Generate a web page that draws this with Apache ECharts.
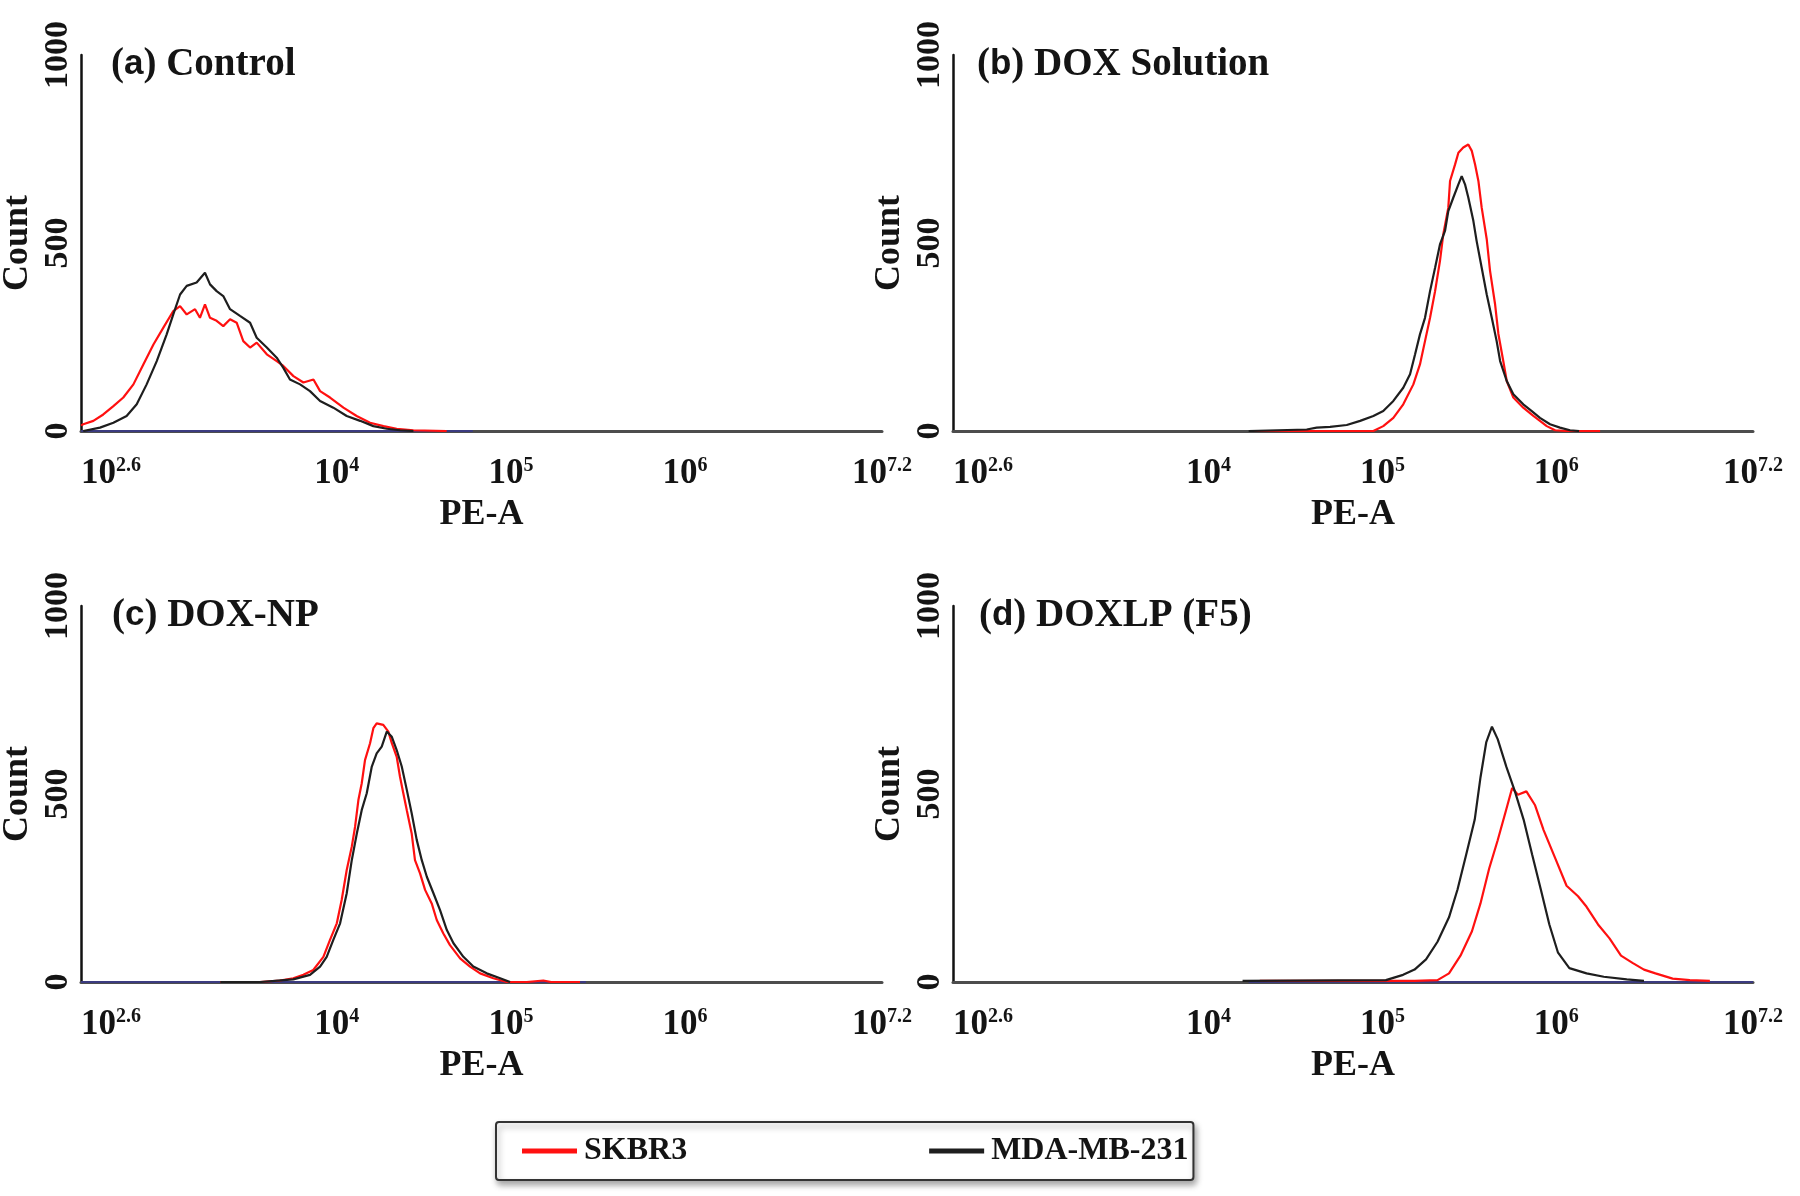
<!DOCTYPE html>
<html>
<head>
<meta charset="utf-8">
<script src="https://cdn.jsdelivr.net/npm/echarts@6.0.0/dist/echarts.min.js"></script>
<style>
  html, body { margin: 0; padding: 0; background: #ffffff; }
  #chart { width: 1800px; height: 1196px; }
</style>
</head>
<body>
<div id="chart"></div>
<script>
// ---------- DATA (x = log10(PE-A), y = Count) ----------
const xTickValues = [2.6, 4, 5, 6, 7.2];
const xTickExponents = ['2.6', '4', '5', '6', '7.2'];
const yTickValues = [0, 500, 1000];
const seriesNames = ['SKBR3', 'MDA-MB-231'];
const panelLetters = ['a', 'b', 'c', 'd'];
const panelTitles = ['Control', 'DOX Solution', 'DOX-NP', 'DOXLP (F5)'];

// (a) Control
const controlSKBR3 = [[2.60,15],[2.613,18],[2.671,27],[2.728,44],[2.786,66],[2.843,89],[2.901,124],[2.958,177],[3.016,230],[3.073,275],[3.130,319],[3.169,332],[3.207,310],[3.255,324],[3.283,301],[3.312,337],[3.341,301],[3.379,293],[3.417,279],[3.456,297],[3.494,288],[3.532,239],[3.571,222],[3.609,235],[3.667,204],[3.724,186],[3.762,173],[3.820,146],[3.877,129],[3.935,137],[3.973,106],[4.030,89],[4.107,62],[4.183,40],[4.260,22],[4.337,13],[4.413,6],[4.509,2],[4.70,0]];
const controlMDA = [[2.613,0],[2.709,9],[2.786,22],[2.862,40],[2.920,71],[2.977,124],[3.035,186],[3.092,257],[3.130,310],[3.169,363],[3.207,386],[3.264,395],[3.312,421],[3.341,390],[3.379,372],[3.417,359],[3.456,324],[3.513,306],[3.571,288],[3.609,248],[3.667,222],[3.724,195],[3.762,168],[3.800,137],[3.858,124],[3.915,106],[3.973,80],[4.049,62],[4.126,40],[4.203,27],[4.279,13],[4.356,6],[4.432,2],[4.509,0]];
const controlBase = [[2.6,0],[4.85,0]];

// (b) DOX Solution
const doxSolSKBR3 = [[4.31,0],[5.017,0],[5.074,13],[5.132,35],[5.189,71],[5.247,124],[5.285,177],[5.314,239],[5.343,301],[5.372,372],[5.400,452],[5.419,523],[5.448,594],[5.458,665],[5.487,709],[5.506,740],[5.534,754],[5.563,762],[5.583,745],[5.602,709],[5.621,665],[5.640,594],[5.669,510],[5.688,426],[5.717,337],[5.736,258],[5.764,186],[5.784,133],[5.822,89],[5.879,62],[5.937,40],[5.975,27],[6.014,13],[6.062,2],[6.129,0],[6.321,0]];
const doxSolMDA = [[4.30,0],[4.634,4],[4.691,9],[4.768,11],[4.864,16],[4.941,27],[5.017,40],[5.074,53],[5.132,80],[5.189,115],[5.228,151],[5.257,204],[5.285,257],[5.314,301],[5.343,372],[5.372,434],[5.400,496],[5.429,532],[5.448,585],[5.477,621],[5.506,656],[5.525,678],[5.544,656],[5.563,621],[5.592,559],[5.611,505],[5.640,434],[5.669,363],[5.698,301],[5.726,239],[5.746,186],[5.784,133],[5.822,98],[5.879,71],[5.928,53],[5.975,35],[6.033,18],[6.090,9],[6.148,2],[6.20,0]];
const doxSolBase = [];

// (c) DOX-NP
const doxNpSKBR3 = [[3.40,0],[3.628,0],[3.743,4],[3.819,10],[3.877,19],[3.934,32],[3.992,67],[4.030,112],[4.069,156],[4.097,218],[4.126,298],[4.155,360],[4.174,413],[4.193,484],[4.212,528],[4.231,590],[4.260,635],[4.279,675],[4.298,688],[4.336,684],[4.365,666],[4.385,635],[4.413,599],[4.432,546],[4.451,502],[4.471,457],[4.499,395],[4.518,324],[4.547,289],[4.576,245],[4.614,209],[4.643,165],[4.681,129],[4.719,98],[4.777,63],[4.834,41],[4.892,23],[4.968,10],[5.045,0],[5.160,0],[5.255,4],[5.30,0],[5.466,0]];
const doxNpMDA = [[3.40,0],[3.628,0],[3.819,7],[3.915,19],[3.973,41],[4.011,67],[4.049,112],[4.088,156],[4.126,236],[4.155,324],[4.184,395],[4.212,457],[4.241,502],[4.270,573],[4.298,608],[4.327,626],[4.356,666],[4.385,652],[4.413,617],[4.442,573],[4.471,511],[4.499,449],[4.528,378],[4.557,324],[4.586,280],[4.624,236],[4.662,191],[4.701,138],[4.739,103],[4.796,67],[4.853,41],[4.930,23],[5.007,10],[5.064,0]];
const doxNpBase = [[2.6,0],[5.5,0]];

// (d) DOXLP (F5)
const doxLpSKBR3 = [[4.364,3],[5.254,3],[5.386,5],[5.452,23],[5.518,70],[5.584,135],[5.633,209],[5.683,302],[5.732,377],[5.782,460],[5.815,516],[5.848,498],[5.897,507],[5.947,470],[5.996,404],[6.062,330],[6.128,256],[6.194,228],[6.243,200],[6.309,153],[6.375,116],[6.441,70],[6.507,51],[6.573,33],[6.639,23],[6.738,9],[6.837,5],[6.952,3]];
const doxLpMDA = [[4.265,3],[5.089,5],[5.188,19],[5.254,33],[5.320,60],[5.386,107],[5.452,172],[5.501,246],[5.551,339],[5.600,432],[5.633,544],[5.666,637],[5.699,679],[5.732,646],[5.782,572],[5.831,507],[5.881,432],[5.930,339],[5.980,246],[6.029,153],[6.078,79],[6.144,37],[6.243,23],[6.342,14],[6.474,7],[6.573,3]];
const doxLpBase = [[4.3,0],[7.2,0]];

const redData = [controlSKBR3, doxSolSKBR3, doxNpSKBR3, doxLpSKBR3];
const blackData = [controlMDA, doxSolMDA, doxNpMDA, doxLpMDA];
const baseData = [controlBase, doxSolBase, doxNpBase, doxLpBase];

// ---------- LAYOUT / STYLE ----------
const SERIF = '"Liberation Serif","Times New Roman",serif';
const SANS = '"Liberation Sans",Arial,sans-serif';
const TXT = '#141414';
const RED = '#ff1010';
const BLACK = '#1e1e1e';
const NAVY = '#3b3b80';

const gridBoxes = [
  { left: 81,  top: 55,  width: 801, height: 376 },
  { left: 953, top: 55,  width: 800, height: 376 },
  { left: 81,  top: 606, width: 801, height: 376 },
  { left: 953, top: 606, width: 800, height: 376 }
];
const titlePos = [
  { left: 106, top: 40 },
  { left: 972, top: 40 },
  { left: 107, top: 591 },
  { left: 974, top: 591 }
];

function xLabelFormatter(v) {
  let idx = 0, best = Infinity;
  xTickValues.forEach((t, i) => { const d = Math.abs(t - v); if (d < best) { best = d; idx = i; } });
  const inner = idx > 0 && idx < xTickValues.length - 1;
  return (inner ? '{g|}' : '') + '{b|10}{s|' + xTickExponents[idx] + '}';
}

const grids = gridBoxes.map(g => Object.assign({ containLabel: false, outerBoundsMode: 'none' }, g));

const xAxes = gridBoxes.map((g, i) => ({
  type: 'value', gridIndex: i, min: 2.6, max: 7.2,
  axisLine: { show: true, onZero: false, lineStyle: { color: '#4d4d4d', width: 3 } },
  axisTick: { show: false },
  splitLine: { show: false },
  axisLabel: {
    customValues: xTickValues,
    margin: 25,
    alignMinLabel: 'left',
    formatter: xLabelFormatter,
    rich: {
      g: { width: 24, fontSize: 34, lineHeight: 34 },
      b: { fontFamily: SERIF, fontWeight: 'bold', fontSize: 35, lineHeight: 35, color: TXT, verticalAlign: 'bottom' },
      s: { fontFamily: SERIF, fontWeight: 'bold', fontSize: 20, lineHeight: 20, color: TXT, verticalAlign: 'top' }
    }
  },
  name: 'PE-A', nameLocation: 'middle', nameGap: 66,
  nameTextStyle: { fontFamily: SERIF, fontWeight: 'bold', fontSize: 36, color: TXT }
}));

const yAxes = gridBoxes.map((g, i) => ({
  type: 'value', gridIndex: i, min: 0, max: 1000, interval: 500,
  axisLine: { show: true, lineStyle: { color: '#111', width: 2.5 } },
  axisTick: { show: false },
  splitLine: { show: false },
  axisLabel: {
    customValues: yTickValues, rotate: 90, margin: 6,
    formatter: v => String(v),
    fontFamily: SERIF, fontWeight: 'bold', fontSize: 34, color: TXT
  },
  name: 'Count', nameLocation: 'middle', nameRotate: 90, nameGap: 45,
  nameTextStyle: { fontFamily: SERIF, fontWeight: 'bold', fontSize: 36, color: TXT }
}));

const series = [];
gridBoxes.forEach((g, i) => {
  if (baseData[i].length) {
    series.push({
      name: 'Baseline', type: 'line', xAxisIndex: i, yAxisIndex: i, data: baseData[i],
      showSymbol: false, silent: true, z: 2,
      lineStyle: { color: NAVY, width: 2 }, itemStyle: { color: NAVY }
    });
  }
  series.push({
    name: seriesNames[0], type: 'line', xAxisIndex: i, yAxisIndex: i, data: redData[i],
    showSymbol: false, z: 3,
    lineStyle: { color: RED, width: 2.2 }, itemStyle: { color: RED }
  });
  series.push({
    name: seriesNames[1], type: 'line', xAxisIndex: i, yAxisIndex: i, data: blackData[i],
    showSymbol: false, z: 4,
    lineStyle: { color: BLACK, width: 2.2 }, itemStyle: { color: BLACK }
  });
});

const titles = panelLetters.map((l, i) => ({
  left: titlePos[i].left, top: titlePos[i].top,
  text: '{p|(}{s|' + l + '}{p|) ' + panelTitles[i] + '}',
  textStyle: {
    rich: {
      p: { fontFamily: SERIF, fontWeight: 'bold', fontSize: 39, color: TXT },
      s: { fontFamily: SANS, fontWeight: 'bold', fontSize: 35, color: TXT }
    }
  }
}));

const chart = echarts.init(document.getElementById('chart'), null, { renderer: 'canvas' });
chart.setOption({
  backgroundColor: '#ffffff',
  animation: false,
  title: titles,
  grid: grids,
  xAxis: xAxes,
  yAxis: yAxes,
  legend: {
    data: seriesNames,
    orient: 'horizontal',
    left: 496, top: 1122,
    padding: [13, 5, 13, 26],
    itemGap: 242,
    itemWidth: 55, itemHeight: 5,
    icon: 'rect',
    backgroundColor: '#ffffff',
    borderColor: '#333333', borderWidth: 2, borderRadius: 3,
    shadowBlur: 6, shadowColor: 'rgba(0,0,0,0.35)', shadowOffsetX: 2, shadowOffsetY: 4,
    textStyle: { fontFamily: SERIF, fontWeight: 'bold', fontSize: 32, color: TXT, padding: [0, 0, 0, 2] }
  },
  series: series
});
</script>
</body>
</html>
